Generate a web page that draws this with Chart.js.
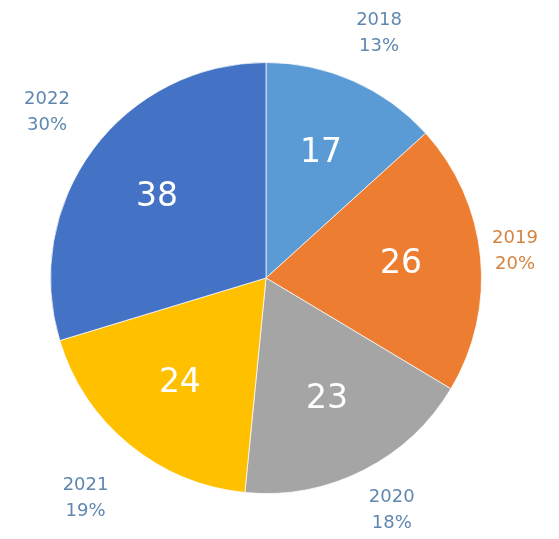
<!DOCTYPE html>
<html>
<head>
<meta charset="utf-8">
<title>Répartition par année</title>
<script src="https://cdn.jsdelivr.net/npm/chart.js@4.4.0/dist/chart.umd.min.js"></script>
<style>
    html, body { margin: 0; padding: 0; background: #fff; }
    #wrap { width: 559px; height: 539px; }
</style>
</head>
<body>
<div id="wrap"><canvas id="pieChart" width="559" height="539"></canvas></div>
<script>
// Données du graphique
const years = ['2018', '2019', '2020', '2021', '2022'];
const counts = [17, 26, 23, 24, 38];
const sliceColors = ['#5B9BD5', '#ED7D31', '#A5A5A5', '#FFC000', '#4472C4'];
const labelColors = ['#5f87b0', '#d4843f', '#5f87b0', '#5f87b0', '#5f87b0'];

const total = counts.reduce((a, b) => a + b, 0);

/**
 * Etiquettes : valeur dans la part, année + pourcentage à l'extérieur
 */
const sliceLabels = {
    id: 'sliceLabels',
    afterDatasetsDraw(chart) {
        const ctx = chart.ctx;
        const arcs = chart.getDatasetMeta(0).data;
        ctx.save();
        ctx.textAlign = 'center';
        ctx.textBaseline = 'middle';

        arcs.forEach(function(arc, i) {
            const p = arc.getProps(['x', 'y', 'startAngle', 'endAngle', 'outerRadius'], true);
            const mid = (p.startAngle + p.endAngle) / 2;
            const dx = Math.cos(mid);
            const dy = Math.sin(mid);

            // valeur à l'intérieur
            ctx.fillStyle = '#ffffff';
            ctx.font = '33px "DejaVu Sans"';
            const rIn = p.outerRadius * 0.63;
            ctx.fillText(counts[i], p.x + dx * rIn, p.y + dy * rIn);

            // année + pourcentage à l'extérieur, gardé dans le canvas
            const hw = 23, hh = 27;
            const edge = Math.min(hw / Math.max(Math.abs(dx), 1e-6), hh / Math.max(Math.abs(dy), 1e-6));
            const rOut = p.outerRadius + 34 + edge;
            let lx = p.x + dx * rOut;
            let ly = p.y + dy * rOut;
            lx = Math.min(Math.max(lx, hw + 24), chart.width - hw - 21);
            ly = Math.min(Math.max(ly, 33), chart.height - 29);
            const pct = Math.round(counts[i] / total * 100) + '%';
            ctx.fillStyle = labelColors[i];
            ctx.font = '18px "DejaVu Sans"';
            ctx.fillText(years[i], lx, ly - 13);
            ctx.fillText(pct, lx, ly + 13);
        });
        ctx.restore();
    }
};

document.addEventListener('DOMContentLoaded', function() {
    new Chart(document.getElementById('pieChart'), {
        type: 'pie',
        data: {
            labels: years,
            datasets: [{
                data: counts,
                backgroundColor: sliceColors,
                borderColor: 'rgba(255, 255, 255, 0.7)',
                borderWidth: 1
            }]
        },
        options: {
            responsive: false,
            animation: false,
            layout: {
                padding: { left: 50, right: 77, top: 62, bottom: 45 }
            },
            plugins: {
                legend: { display: false },
                tooltip: { enabled: false }
            }
        },
        plugins: [sliceLabels]
    });
});
</script>
</body>
</html>
